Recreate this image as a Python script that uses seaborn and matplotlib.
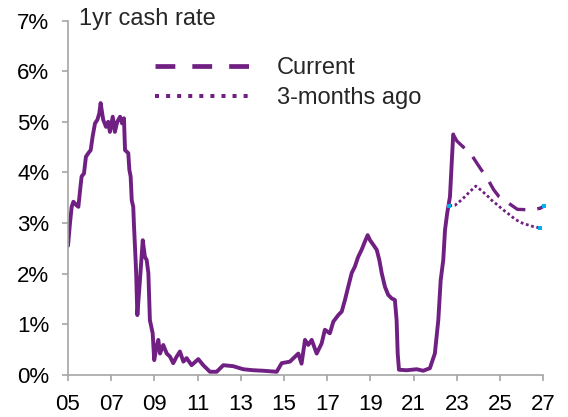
import matplotlib
matplotlib.use("Agg")
import matplotlib.pyplot as plt
import numpy as np
import pandas as pd
import seaborn as sns
from matplotlib.lines import Line2D
from matplotlib.ticker import FuncFormatter

# 1yr cash rate history (decimal year, %)
hist_year = [
    2005.0, 2005.09, 2005.17, 2005.25, 2005.37, 2005.48, 2005.56, 2005.63, 2005.74,
    2005.83, 2005.94, 2006.05, 2006.14, 2006.25, 2006.36, 2006.45, 2006.51, 2006.56,
    2006.63, 2006.76, 2006.86, 2006.94, 2007.07, 2007.17, 2007.28, 2007.41, 2007.5,
    2007.59, 2007.64, 2007.79, 2007.84, 2007.9, 2007.95, 2008.02, 2008.05, 2008.1,
    2008.15, 2008.21, 2008.33, 2008.46, 2008.56, 2008.64, 2008.72, 2008.79, 2008.92,
    2008.99, 2009.1, 2009.18, 2009.26, 2009.41, 2009.57, 2009.72, 2009.87, 2010.03,
    2010.18, 2010.34, 2010.49, 2010.72, 2011.03, 2011.26, 2011.57, 2011.88, 2012.19,
    2012.65, 2013.11, 2013.57, 2014.04, 2014.66, 2014.89, 2015.27, 2015.66, 2015.81,
    2015.97, 2016.12, 2016.28, 2016.51, 2016.74, 2016.89, 2017.12, 2017.28, 2017.51,
    2017.67, 2017.82, 2017.97, 2018.13, 2018.28, 2018.43, 2018.59, 2018.74, 2018.87,
    2018.98, 2019.13, 2019.29, 2019.41, 2019.52, 2019.67, 2019.82, 2019.98, 2020.13,
    2020.21, 2020.26, 2020.32, 2020.67, 2021.14, 2021.44, 2021.75, 2021.98, 2022.14,
    2022.25, 2022.37, 2022.45, 2022.55, 2022.68, 2022.76, 2022.83,
]
hist_rate = [
    2.55, 2.99, 3.32, 3.42, 3.36, 3.32, 3.65, 3.92, 3.98,
    4.31, 4.38, 4.44, 4.71, 4.97, 5.04, 5.17, 5.37, 5.23,
    5.04, 4.90, 5.00, 4.80, 5.10, 4.80, 5.00, 5.10, 4.97,
    5.07, 4.44, 4.38, 4.05, 3.92, 3.45, 3.32, 2.99, 2.53,
    2.07, 1.18, 1.87, 2.66, 2.33, 2.27, 2.01, 1.08, 0.82,
    0.29, 0.56, 0.69, 0.42, 0.59, 0.42, 0.36, 0.23, 0.36,
    0.46, 0.26, 0.33, 0.19, 0.31, 0.19, 0.06, 0.06, 0.19,
    0.17, 0.11, 0.09, 0.08, 0.06, 0.23, 0.26, 0.42, 0.22,
    0.69, 0.59, 0.69, 0.42, 0.62, 0.89, 0.82, 1.05, 1.18,
    1.25, 1.48, 1.74, 2.01, 2.14, 2.33, 2.47, 2.63, 2.76,
    2.66, 2.57, 2.47, 2.27, 2.01, 1.74, 1.58, 1.51, 1.48,
    1.08, 0.42, 0.10, 0.09, 0.11, 0.08, 0.13, 0.42, 1.08,
    1.87, 2.27, 2.86, 3.19, 3.52, 4.18, 4.75,
]

# current market pricing
cur_year = [2022.83, 2023.0, 2023.3, 2023.7, 2024.1, 2024.45, 2024.7, 2024.95,
            2025.3, 2025.8, 2026.4, 2026.85, 2027.05]
cur_rate = [4.75, 4.62, 4.50, 4.33, 4.07, 3.85, 3.66, 3.52,
            3.42, 3.27, 3.26, 3.29, 3.34]

# pricing 3 months ago
ago_year = [2022.65, 2022.91, 2023.14, 2023.37, 2023.6, 2023.88, 2024.14, 2024.38,
            2024.61, 2024.87, 2025.14, 2025.42, 2025.68, 2025.95, 2026.23, 2026.53, 2026.87]
ago_rate = [3.34, 3.35, 3.43, 3.52, 3.62, 3.73, 3.64, 3.55,
            3.45, 3.36, 3.26, 3.17, 3.08, 3.01, 2.97, 2.93, 2.90]

x_ticks = list(range(2005, 2028, 2))
x_labels = ["05", "07", "09", "11", "13", "15", "17", "19", "21", "23", "25", "27"]

purple = "#702082"
cyan = "#00B0F0"
grey = "#A6A6A6"

sns.set_theme(style="white")
plt.rcParams["font.family"] = ["Liberation Sans", "DejaVu Sans"]

fig = plt.figure(figsize=(5.68, 4.17), dpi=100)
ax = fig.add_axes([68 / 568, 1 - 374.8 / 417, (543.3 - 68) / 568, (374.8 - 20.6) / 417])

hist = pd.DataFrame({"year": hist_year, "rate": hist_rate})
cur = pd.DataFrame({"year": cur_year, "rate": cur_rate})
ago = pd.DataFrame({"year": ago_year, "rate": ago_rate})

sns.lineplot(data=hist, x="year", y="rate", ax=ax, color=purple, lw=2.8,
             solid_joinstyle="round", sort=False)
sns.lineplot(data=cur, x="year", y="rate", ax=ax, color=purple, lw=2.4,
             sort=False, clip_on=False).lines[-1].set_dashes([5.4, 3.6])
sns.lineplot(data=ago, x="year", y="rate", ax=ax, color=purple, lw=2.0,
             sort=False).lines[-1].set_dashes([1, 0.95])

ends = pd.DataFrame({"year": [ago_year[0], ago_year[-1], cur_year[-1]],
                     "rate": [ago_rate[0], ago_rate[-1], cur_rate[-1]]})
sns.scatterplot(data=ends, x="year", y="rate", ax=ax, color=cyan, s=7,
                marker="s", linewidth=0, zorder=5, clip_on=False)

ax.set_xlim(2005, 2027)
ax.set_ylim(0, 7)
ax.set_xticks(x_ticks)
ax.set_xticklabels(x_labels)
ax.set_yticks(range(0, 8))
ax.yaxis.set_major_formatter(FuncFormatter(lambda v, p: f"{v:.0f}%"))
ax.set_xlabel("")
ax.set_ylabel("")

for side in ["top", "right"]:
    ax.spines[side].set_visible(False)
for side in ["left", "bottom"]:
    ax.spines[side].set_color(grey)
    ax.spines[side].set_linewidth(1.2)
ax.tick_params(axis="both", colors=grey, labelcolor="black", labelsize=16,
               width=1.2, length=4.5, direction="out")
ax.tick_params(axis="x", bottom=True, pad=9)
ax.tick_params(axis="y", left=True, pad=9)

fig.text(79 / 568, 1 - 19 / 417, "1yr cash rate", fontsize=17, va="center", ha="left")

handles = [
    Line2D([], [], color=purple, lw=3.4, dashes=[4.2, 3.6]),
    Line2D([], [], color=purple, lw=2.9, dashes=[1, 1.75]),
]
ax.legend(handles, ["Current", "3-months ago"], frameon=False, fontsize=17,
          loc="upper left", bbox_to_anchor=(155 / 568, 1 - 57 / 417),
          bbox_transform=fig.transFigure, borderpad=0, borderaxespad=0,
          handlelength=3.98, handletextpad=1.18, labelspacing=0.34)

fig.savefig("out.png", dpi=100)
